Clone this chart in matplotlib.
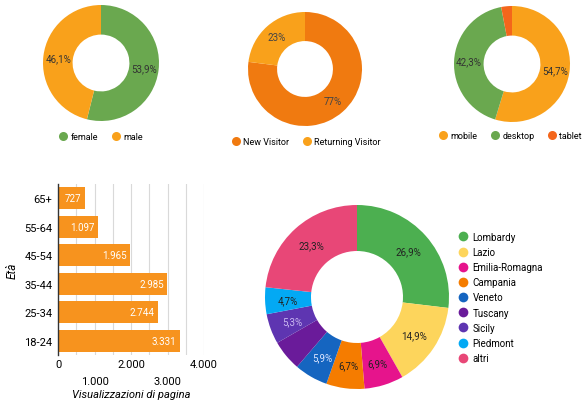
import numpy as np
import matplotlib.pyplot as plt
from matplotlib.lines import Line2D

plt.rcParams['font.family'] = ['Roboto', 'DejaVu Sans']

W, H = 582, 406

# --- data ---
gender_labels = ['female', 'male']
gender_values = [53.9, 46.1]
visitor_labels = ['New Visitor', 'Returning Visitor']
visitor_values = [77, 23]
device_labels = ['mobile', 'desktop', 'tablet']
device_values = [54.7, 42.3, 3.0]
age_labels = ['65+', '55-64', '45-54', '35-44', '25-34', '18-24']
age_views = [727, 1097, 1965, 2985, 2744, 3331]
region_labels = ['Lombardy', 'Lazio', 'Emilia-Romagna', 'Campania', 'Veneto',
                 'Tuscany', 'Sicily', 'Piedmont', 'altri']
region_values = [26.9, 14.9, 6.9, 6.7, 5.9, 5.4, 5.3, 4.7, 23.3]

GREEN = '#6aa84f'
ORANGE = '#f9a11b'
DORANGE = '#f07a10'
region_colors = ['#4caf50', '#fdd55c', '#e6148c', '#f57c00', '#1565c0',
                 '#6a1b9a', '#5e35b1', '#03a9f4', '#e84777']
region_text = ['#222222', '#222222', '#222222', '#222222', '#dde6ff',
               None, '#c9b8f0', '#222222', '#222222']


def box(x0, y0, w, h):
    return [x0 / W, 1 - (y0 + h) / H, w / W, h / H]


def fmt_it(v):
    return '{:,.1f}%'.format(v).replace('.', ',')


fig = plt.figure(figsize=(W / 100, H / 100), dpi=100)


def donut(cx, cy, r, values, colors, labels_txt, txt_colors, fs=7, hole=0.49):
    ax = fig.add_axes(box(cx - r, cy - r, 2 * r, 2 * r))
    ax.pie(values, colors=colors, startangle=90, counterclock=False,
           radius=1, wedgeprops=dict(width=1 - hole, edgecolor='none'))
    total = sum(values)
    ang0 = 90
    mid_r = (1 + hole) / 2
    for v, t, c in zip(values, labels_txt, txt_colors):
        a = np.deg2rad(ang0 - v / total * 180)
        ang0 -= v / total * 360
        if t is None or c is None:
            continue
        ax.text(mid_r * np.cos(a), mid_r * np.sin(a), t, ha='center', va='center',
                fontsize=fs, color=c)
    ax.set_xlim(-1, 1)
    ax.set_ylim(-1, 1)
    ax.axis('off')
    return ax


def legend_row(cx, cy, labels, colors, fs=6.5):
    handles = [Line2D([], [], marker='o', ls='', markersize=6.5, color=c,
                      markeredgewidth=0) for c in colors]
    fig.legend(handles, labels, loc='center', bbox_to_anchor=(cx / W, 1 - cy / H),
               ncol=len(labels), frameon=False, fontsize=fs, handletextpad=0.35,
               columnspacing=1.4, handlelength=1.0, borderpad=0)


# top donuts
donut(101, 64, 58, gender_values, [GREEN, ORANGE],
      [fmt_it(v) for v in gender_values], ['#333333'] * 2)
legend_row(101, 138, gender_labels, [GREEN, ORANGE])

donut(305, 70, 57, visitor_values, [DORANGE, ORANGE],
      ['{}%'.format(v) for v in visitor_values], ['#444444'] * 2)
legend_row(306, 143, visitor_labels, [DORANGE, ORANGE])

donut(512, 65, 58, device_values, [ORANGE, GREEN, '#f4661b'],
      [fmt_it(device_values[0]), fmt_it(device_values[1]), None], ['#333333'] * 3)
legend_row(510, 137, device_labels, [ORANGE, GREEN, '#f4661b'])

# age bar chart
ax = fig.add_axes(box(58, 185, 146, 171))
y = np.arange(len(age_labels))
bars = ax.barh(y, age_views, height=0.78, color='#f7931e')
ax.set_ylim(len(age_labels) - 0.5, -0.5)
ax.set_xlim(0, 4000)
ax.set_yticks(y)
ax.set_yticklabels(age_labels, fontsize=8)
ax.set_xticks([0, 2000, 4000])
ax.set_xticklabels(['0', '2.000', '4.000'], fontsize=8)
ax.set_xticks([1000, 3000], minor=True)
ax.set_xticklabels(['1.000', '3.000'], minor=True, fontsize=8)
ax.tick_params(axis='x', which='major', length=0, pad=3)
ax.tick_params(axis='x', which='minor', length=0, pad=15)
ax.tick_params(axis='y', length=0, pad=4)
for g in np.arange(500, 4001, 500):
    ax.axvline(g, color='#d9d9d9', lw=0.8, zorder=0)
for s in ['top', 'right', 'bottom']:
    ax.spines[s].set_visible(False)
ax.spines['left'].set_color('#333333')
ax.spines['left'].set_linewidth(1.0)
for rect, v in zip(bars, age_views):
    ax.text(rect.get_width() - 90, rect.get_y() + rect.get_height() / 2,
            '{:,}'.format(v).replace(',', '.'), ha='right', va='center',
            fontsize=7, color='white')
ax.set_xlabel('Visualizzazioni di pagina', fontsize=8, style='italic', labelpad=2)
ax.set_ylabel('Età', fontsize=8.5, style='italic', labelpad=4)

# region donut
donut(357, 298, 92, region_values, region_colors,
      [fmt_it(v) for v in region_values], region_text, fs=7, hole=0.5)
handles = [Line2D([], [], marker='o', ls='', markersize=7, color=c,
                  markeredgewidth=0) for c in region_colors]
fig.legend(handles, region_labels, loc='upper left',
           bbox_to_anchor=(452 / W, 1 - 228 / H), frameon=False, fontsize=7,
           handletextpad=0.4, handlelength=1.2, labelspacing=0.53, borderpad=0)

fig.savefig('out.png', dpi=100, facecolor='white')
